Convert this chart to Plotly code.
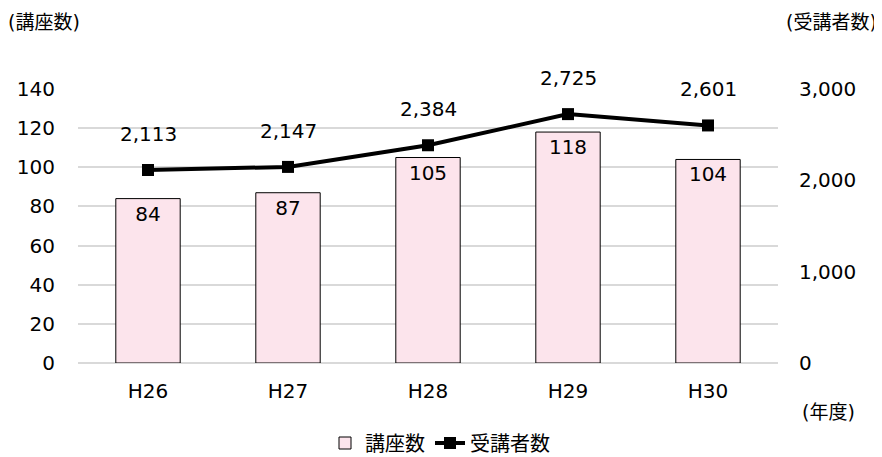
import plotly.graph_objects as go

years = ["H26", "H27", "H28", "H29", "H30"]
courses = [84, 87, 105, 118, 104]
participants = [2113, 2147, 2384, 2725, 2601]

FONT = "DejaVu Sans, Noto Sans CJK JP"
W, H = 882, 457
OFF = 8  # page body margin shifts the figure by 8px
L, T = 78 - OFF, 89 - OFF
PW, PH = 700, 274
R, B = W - L - PW, H - T - PH


def paper_xy(px, py):
    # page pixel position -> paper coords of the plot area
    fx, fy = px - OFF, py - OFF
    return (fx - L) / PW, (T + PH - fy) / PH


fig = go.Figure()

fig.add_trace(go.Bar(
    x=years, y=courses, name="講座数",
    marker=dict(color="#FCE4EC", line=dict(color="black", width=1)),
    width=0.46,
    text=[str(v) for v in courses],
    textposition="inside", insidetextanchor="end",
    textfont=dict(size=20, color="black"),
    yaxis="y"))

fig.add_trace(go.Scatter(
    x=years, y=participants, name="受講者数",
    mode="lines+markers",
    line=dict(color="black", width=4),
    marker=dict(symbol="square", size=12, color="black"),
    yaxis="y2"))

# value labels above the line points
for yr, v in zip(years, participants):
    fig.add_annotation(x=yr, y=v, xref="x", yref="y2", text=f"{v:,}",
                       showarrow=False, yshift=36,
                       font=dict(size=20, color="black"))

for txt, px, py, anchor in [("(講座数)", 6, 22, "left"),
                            ("(受講者数)", 879, 22, "right"),
                            ("(年度)", 857, 412, "right")]:
    ax, ay = paper_xy(px, py)
    fig.add_annotation(x=ax, y=ay, xref="paper", yref="paper", text=txt,
                       showarrow=False, xanchor=anchor, yanchor="middle",
                       font=dict(size=19))

fig.update_layout(
    width=W, height=H,
    margin=dict(l=L, r=R, t=T, b=B, autoexpand=False),
    plot_bgcolor="white", paper_bgcolor="white",
    font=dict(family=FONT, size=20, color="black"),
    showlegend=True,
    legend=dict(orientation="h", x=(440 - OFF - L) / PW, xanchor="center", xref="paper",
                yref="container", y=(H - (443 - OFF)) / H, yanchor="middle",
                font=dict(size=20), traceorder="normal"),
    xaxis=dict(showline=False, ticks="", ticklabelstandoff=14),
    yaxis=dict(range=[0, 140], dtick=20, showgrid=True, gridcolor="#d9d9d9", gridwidth=1.5,
               zeroline=True, zerolinecolor="#d9d9d9", zerolinewidth=1.5,
               ticklabelstandoff=22),
    yaxis2=dict(range=[0, 3000], dtick=1000, overlaying="y", side="right",
                showgrid=False, zeroline=False, tickformat=",",
                ticklabelstandoff=20),
)

fig.write_html("out.html")
